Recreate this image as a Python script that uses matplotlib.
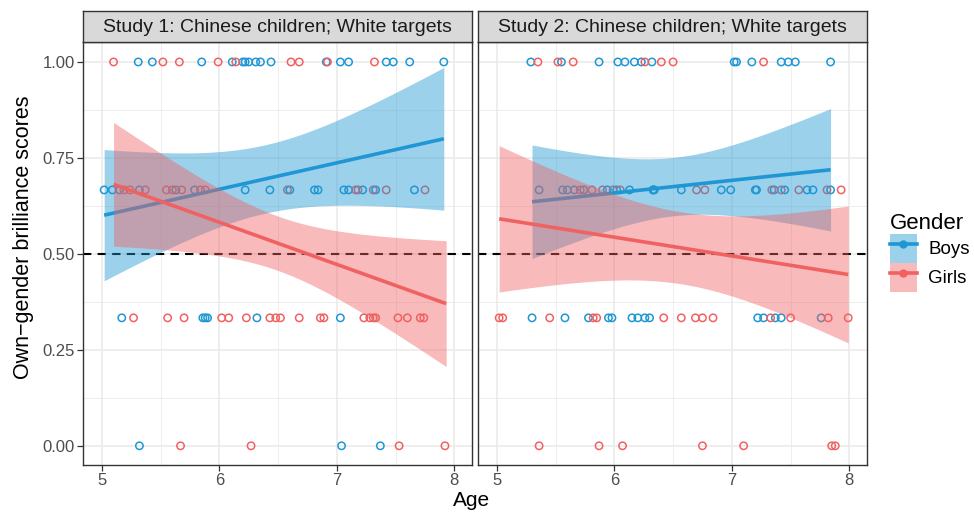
import matplotlib
matplotlib.use("Agg")
import matplotlib.pyplot as plt
import numpy as np
from matplotlib.lines import Line2D
from matplotlib.patches import Patch

plt.rcParams["font.family"] = ["Liberation Sans", "DejaVu Sans"]

# ===== DATA =====
panel_titles = ["Study 1: Chinese children; White targets",
                "Study 2: Chinese children; White targets"]
genders = ["Boys", "Girls"]
score_levels = [0.0, 1 / 3, 2 / 3, 1.0]
x_ticks = [5, 6, 7, 8]
y_ticks = [0.0, 0.25, 0.5, 0.75, 1.0]
y_ticklabels = ["0.00", "0.25", "0.50", "0.75", "1.00"]

# ages of each child, grouped by score
s1_boys = {
    1.0: [5.31, 5.43, 5.85, 6.11, 6.20, 6.22, 6.25, 6.31, 6.35, 6.44, 6.91,
          7.03, 7.10, 7.42, 7.48, 7.62, 7.91],
    2 / 3: [5.02, 5.09, 5.15, 5.32, 5.63, 5.79, 6.22, 6.43, 6.60, 6.81, 6.84,
            7.06, 7.10, 7.22, 7.33, 7.66],
    1 / 3: [5.17, 5.86, 5.88, 5.90, 6.32, 7.03],
    0.0: [5.32, 7.04, 7.37],
}
s1_girls = {
    1.0: [5.10, 5.52, 5.66, 5.99, 6.14, 6.61, 6.68, 6.92, 7.32],
    2 / 3: [5.19, 5.24, 5.37, 5.55, 5.60, 5.68, 5.84, 5.88, 6.58, 7.16, 7.18,
            7.31, 7.42, 7.75],
    1 / 3: [5.27, 5.56, 5.70, 6.02, 6.08, 6.23, 6.43, 6.48, 6.52, 6.68, 6.86,
            6.89, 7.23, 7.28, 7.31, 7.33, 7.52, 7.60, 7.71, 7.74],
    0.0: [5.67, 6.27, 7.53, 7.92],
}
s2_boys = {
    1.0: [5.29, 5.55, 5.87, 6.03, 6.09, 6.17, 6.23, 6.32, 7.02, 7.04, 7.17,
          7.42, 7.48, 7.54, 7.84],
    2 / 3: [5.36, 5.56, 5.60, 5.66, 5.74, 5.94, 6.02, 6.13, 6.33, 6.33, 6.34,
            6.57, 6.91, 6.99, 7.20, 7.21, 7.36, 7.45, 7.64, 7.69, 7.84],
    1 / 3: [5.30, 5.58, 5.78, 5.95, 5.98, 6.15, 6.20, 6.26, 6.30, 7.22, 7.27,
            7.37, 7.42, 7.76],
    0.0: [],
}
s2_girls = {
    1.0: [5.35, 5.52, 5.65, 6.26, 6.40, 6.50, 7.27],
    2 / 3: [5.71, 5.81, 5.90, 5.99, 6.05, 6.70, 6.77, 7.34, 7.42, 7.57, 7.81,
            7.93],
    1 / 3: [5.02, 5.05, 5.45, 5.82, 5.85, 6.42, 6.57, 6.69, 6.75, 6.84, 7.33,
            7.50, 7.82, 7.99],
    0.0: [5.36, 5.87, 6.07, 6.75, 7.10, 7.85, 7.88],
}

# confidence band edges of the linear fits, read at a few ages
s1_boys_band_age = [5.02, 5.5, 6.0, 6.5, 7.0, 7.5, 7.91]
s1_boys_band_lo = [0.427, 0.51, 0.57, 0.61, 0.625, 0.625, 0.613]
s1_boys_band_hi = [0.773, 0.762, 0.765, 0.79, 0.855, 0.92, 0.984]
s1_girls_band_age = [5.10, 5.5, 6.0, 6.5, 7.0, 7.5, 7.93]
s1_girls_band_lo = [0.52, 0.513, 0.49, 0.455, 0.386, 0.30, 0.202]
s1_girls_band_hi = [0.84, 0.763, 0.676, 0.60, 0.56, 0.536, 0.537]
s2_boys_band_age = [5.30, 5.5, 6.0, 6.5, 7.0, 7.5, 7.84]
s2_boys_band_lo = [0.49, 0.512, 0.563, 0.595, 0.598, 0.588, 0.556]
s2_boys_band_hi = [0.784, 0.772, 0.753, 0.755, 0.784, 0.828, 0.884]
s2_girls_band_age = [5.02, 5.5, 6.0, 6.5, 7.0, 7.5, 7.99]
s2_girls_band_lo = [0.40, 0.419, 0.434, 0.424, 0.39, 0.335, 0.267]
s2_girls_band_hi = [0.78, 0.719, 0.654, 0.614, 0.60, 0.605, 0.625]

# ===== STYLE =====
colors = {"Boys": "#1F97D4", "Girls": "#F06262"}
band_alpha = 0.44
grid_col = "#EBEBEB"
border_col = "#333333"
tick_col = "#4D4D4D"

panels = [
    {"title": panel_titles[0],
     "points": {"Boys": s1_boys, "Girls": s1_girls},
     "bands": {"Boys": (s1_boys_band_age, s1_boys_band_lo, s1_boys_band_hi),
               "Girls": (s1_girls_band_age, s1_girls_band_lo, s1_girls_band_hi)}},
    {"title": panel_titles[1],
     "points": {"Boys": s2_boys, "Girls": s2_girls},
     "bands": {"Boys": (s2_boys_band_age, s2_boys_band_lo, s2_boys_band_hi),
               "Girls": (s2_girls_band_age, s2_girls_band_lo, s2_girls_band_hi)}},
]

W, H = 974, 513
fig = plt.figure(figsize=(W / 100, H / 100), dpi=100)

panel_left = [83, 478]
panel_w = 389
panel_top, panel_bot = 42, 465
strip_top = 11

for i, p in enumerate(panels):
    ax = fig.add_axes([panel_left[i] / W, 1 - panel_bot / H,
                       panel_w / W, (panel_bot - panel_top) / H])
    ax.set_xlim(4.84, 8.15)
    ax.set_ylim(-0.05, 1.052)

    # grid
    for xv in [5.5, 6.5, 7.5]:
        ax.axvline(xv, color=grid_col, lw=0.6, zorder=0)
    for yv in [0.125, 0.375, 0.625, 0.875]:
        ax.axhline(yv, color=grid_col, lw=0.6, zorder=0)
    for xv in x_ticks:
        ax.axvline(xv, color=grid_col, lw=1.2, zorder=0)
    for yv in y_ticks:
        ax.axhline(yv, color=grid_col, lw=1.2, zorder=0)

    # points
    for g in genders:
        for sc in score_levels:
            ages = p["points"][g][sc]
            ax.scatter(ages, [sc] * len(ages), s=28, facecolors="none",
                       edgecolors=colors[g], linewidths=1.1, zorder=2)

    ax.axhline(0.5, color="black", lw=1.5, ls=(0, (4, 3)), zorder=2.5)

    # linear fit + band
    z = 3
    for g in genders:
        age, lo, hi = (np.array(a) for a in p["bands"][g])
        mid = (lo + hi) / 2
        half2 = ((hi - lo) / 2) ** 2
        fit_mid = np.polyfit(age, mid, 1)
        fit_half = np.polyfit(age, half2, 2)
        xx = np.linspace(age.min(), age.max(), 100)
        yy = np.polyval(fit_mid, xx)
        hh = np.sqrt(np.clip(np.polyval(fit_half, xx), 0, None))
        ax.fill_between(xx, yy - hh, yy + hh, color=colors[g], alpha=band_alpha,
                        lw=0, zorder=z)
        ax.plot(xx, yy, color=colors[g], lw=2.6, zorder=z + 0.5,
                solid_capstyle="butt")
        z += 1

    ax.set_xticks(x_ticks)
    ax.set_yticks(y_ticks)
    ax.tick_params(axis="both", colors=border_col, length=4, width=0.9,
                   labelsize=12, labelcolor=tick_col, pad=2)
    if i == 0:
        ax.set_yticklabels(y_ticklabels)
    else:
        ax.tick_params(axis="y", left=False, labelleft=False)
    for sp in ax.spines.values():
        sp.set_color(border_col)
        sp.set_linewidth(1.0)
        sp.set_zorder(10)

    # strip
    sax = fig.add_axes([panel_left[i] / W, 1 - panel_top / H,
                        panel_w / W, (panel_top - strip_top) / H])
    sax.set_xticks([])
    sax.set_yticks([])
    sax.set_facecolor("#D9D9D9")
    for sp in sax.spines.values():
        sp.set_color(border_col)
        sp.set_linewidth(1.0)
    sax.text(0.5, 0.47, p["title"], ha="center", va="center", fontsize=14,
             color="#1A1A1A", transform=sax.transAxes)

fig.text(24 / W, 1 - 237 / H, "Own\u2212gender brilliance scores", rotation=90,
         ha="center", va="center", fontsize=15.5, color="black")
fig.text(472 / W, 1 - 501 / H, "Age", ha="center", va="center", fontsize=15,
         color="black")

handles = []
for g in genders:
    handles.append((Patch(facecolor=colors[g], alpha=band_alpha, lw=0),
                    Line2D([], [], color=colors[g], lw=2.6, marker="o",
                           markersize=5, markerfacecolor=colors[g])))
leg = fig.legend(handles, genders, title="Gender", loc="upper left",
                 bbox_to_anchor=(886 / W, 1 - 209 / H), frameon=False,
                 fontsize=13.5, title_fontsize=16, handlelength=1.45,
                 handleheight=2.0, handletextpad=0.6, labelspacing=0.0,
                 borderpad=0.2, borderaxespad=0.0)
leg._legend_box.align = "left"

fig.savefig("out.png", dpi=100)
